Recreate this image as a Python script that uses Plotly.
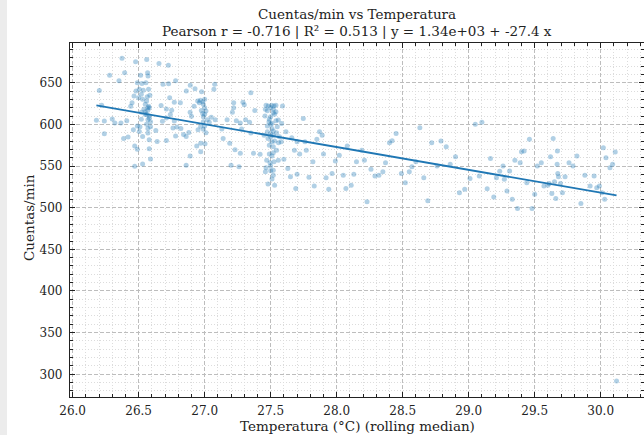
import plotly.graph_objects as go

# ---- data ----
temp = [
    26.374, 26.477, 26.561, 26.654, 26.725, 26.28, 26.394, 26.351, 26.515, 26.568, 26.571,
    26.49, 26.525, 26.555, 26.684, 26.727, 26.78, 26.202, 26.861, 26.891, 26.927, 26.977,
    27.076, 26.48, 26.505, 26.535, 26.575, 26.465, 26.5, 26.52, 26.565, 26.585, 26.735,
    26.77, 26.816, 26.947, 26.967, 26.96, 26.985, 26.45, 26.44, 26.576, 26.58, 26.57,
    26.67, 26.71, 26.75, 26.89, 26.975, 26.985, 26.99, 26.52, 26.55, 26.58, 26.57,
    26.68, 26.71, 26.74, 26.77, 26.18, 26.24, 26.3, 26.32, 26.366, 26.41, 26.22,
    26.24, 26.386, 26.42, 26.46, 26.49, 26.51, 26.505, 26.57, 26.59, 26.53, 26.58,
    26.58, 26.59, 26.47, 26.49, 26.53, 26.47, 26.63, 26.64, 26.71, 26.76, 26.79,
    26.82, 26.78, 26.84, 26.86, 26.88, 26.89, 26.94, 26.97, 27.003, 26.97, 26.86,
    27.02, 27.035, 27.05, 27.08, 26.97, 26.99, 26.95, 27.13, 27.14, 27.17, 27.21,
    27.22, 27.24, 27.22, 27.29, 27.3, 27.27, 27.28, 27.31, 27.34, 27.19, 27.23,
    27.27, 27.2, 27.26, 27.37, 27.42, 27.35, 27.38, 27.35, 26.92, 26.9, 27.07,
    27.465, 27.482, 27.508, 27.525, 27.54, 27.59, 27.46, 27.475, 27.52, 27.54, 27.5,
    27.52, 27.457, 27.487, 27.475, 27.51, 27.54, 27.558, 27.55, 27.475, 27.5, 27.52,
    27.545, 27.566, 27.58, 27.45, 27.48, 27.508, 27.52, 27.545, 27.56, 27.52, 27.49,
    27.47, 27.495, 27.525, 27.558, 27.6, 27.465, 27.46, 27.5, 27.51, 27.48, 27.52,
    27.53, 27.616, 27.583, 27.747, 27.66, 27.7, 27.68, 27.72, 27.77, 27.76, 27.85,
    27.87, 27.89, 27.82, 27.9, 27.63, 27.65, 27.7, 27.69, 27.79, 27.83, 27.92,
    27.94, 27.965, 27.99, 28.02, 28.08, 28.05, 28.07, 28.11, 28.13, 28.15, 28.19,
    28.21, 28.23, 28.26, 28.29, 28.32, 28.35, 28.37, 28.4, 28.42, 28.45, 28.49,
    28.52, 28.55, 28.57, 28.6, 28.63, 28.66, 28.69, 28.72, 28.76, 28.79, 28.83,
    28.9, 28.86, 28.93, 28.97, 29.01, 29.05, 29.1, 29.08, 29.14, 29.165, 29.19,
    29.21, 29.235, 29.26, 29.27, 29.29, 29.31, 29.33, 29.35, 29.37, 29.39, 29.4,
    29.42, 29.44, 29.46, 29.48, 29.5, 29.52, 29.55, 29.57, 29.6, 29.62, 29.61,
    29.63, 29.64, 29.65, 29.66, 29.67, 29.672, 29.675, 29.68, 29.71, 29.695, 29.73,
    29.76, 29.79, 29.82, 29.85, 29.88, 29.92, 29.95, 29.97, 29.99, 30.01, 30.02,
    30.03, 30.04, 30.07, 30.09, 30.11, 30.12,
    26.55, 26.56, 26.57, 26.55, 26.56, 26.54, 26.58, 26.53, 26.56, 26.57, 26.52, 26.59,
    27.0, 27.0, 27.01, 26.99, 27.0, 27.01, 26.99, 27.0,
    27.5, 27.51, 27.49, 27.52, 27.5, 27.53, 27.49, 27.51, 27.5, 27.52, 27.5, 27.53,
]
counts = [
    679.4, 675, 677.8, 673, 671, 658.9, 662, 652.4, 659, 662, 658,
    650, 649, 650, 648, 648.8, 652.4, 640.7, 640, 646.8, 642.7, 639,
    648, 640, 642, 641, 642, 634, 632, 636, 633, 635, 632,
    626.6, 625.8, 628, 629, 625.8, 627, 625.8, 621.8, 621.8, 619.8, 617,
    622.6, 618.5, 617, 614.5, 616.5, 613, 609, 614.5, 611.7, 607.7, 605.6,
    603.6, 607.7, 611.7, 604, 605, 604, 606.5, 601.6, 601.6, 604.4, 623,
    588.7, 583, 584.7, 593.6, 598, 597, 591.5, 589.5, 597, 585.5, 581.5,
    570.6, 558.5, 574, 570, 552.4, 549.6, 592.7, 579.4, 580.6, 595.6, 596.8,
    595, 586, 587.9, 585.5, 590.3, 562, 574, 577.4, 576.6, 567, 551,
    605.6, 602.4, 608.5, 605.6, 597.6, 594, 593.6, 594.4, 583, 605.6, 614.5,
    620, 604.4, 625.8, 626.6, 623.4, 601.6, 594.4, 605.6, 602.4, 577.4, 569.4,
    565.3, 551, 549, 565.3, 564, 638, 616.5, 589.5, 621.8, 609.7, 642,
    623, 622, 623, 622, 623, 622, 618, 616.4, 614, 615.2, 609.2,
    618, 610, 603.2, 598, 601.2, 604.4, 605.2, 597.2, 591, 589, 587,
    590, 585, 579, 587, 583, 579, 573, 569, 578, 566, 564.4,
    557, 554, 555, 557, 558, 548, 543, 544.4, 534.4, 528.4, 539,
    527, 591, 601, 607, 584, 579, 569, 564.4, 569, 579, 582,
    591, 587, 555, 564.4, 547, 537, 540, 523, 536.4, 526, 536,
    522, 541, 556, 563, 574, 539, 523, 527, 540, 555, 569,
    557, 507, 546, 538, 539, 543, 554, 578, 580.4, 589, 541,
    530, 543, 549, 555, 596, 536, 508.4, 578, 550, 580, 573,
    561, 552, 518, 522, 535, 600, 602.4, 538, 522.8, 559, 512.8,
    536, 543.6, 550, 534, 520, 544, 510, 557, 499, 554, 567,
    568, 530, 582, 499, 516, 550, 554, 526, 527, 561, 529,
    517, 583, 531, 511, 552, 568, 541, 537, 518, 529, 537,
    554, 550, 562, 505, 539, 526, 538, 524, 526, 518, 572,
    510, 560, 548, 552, 566.8, 292,
    615, 612, 620, 624, 628, 618, 610, 630, 600, 595, 606, 603,
    620, 612, 616, 603, 598, 590, 624, 630,
    600, 595, 606, 592, 585, 580, 575, 562, 550, 545, 620, 612,
]
INTERCEPT = 1340.0
SLOPE = -27.4
title_lines = ["Cuentas/min vs Temperatura",
               "Pearson r = -0.716 | R\u00b2 = 0.513 | y = 1.34e+03 + -27.4 x"]
x_label = "Temperatura (\u00b0C) (rolling median)"
y_label = "Cuentas/min"

FONT = "DejaVu Serif"
BLUE = "#1f77b4"

x_fit = [min(temp), max(temp)]
y_fit = [INTERCEPT + SLOPE * v for v in x_fit]

fig = go.Figure()
fig.add_trace(go.Scatter(
    x=temp, y=counts, mode="markers",
    marker=dict(size=5, color="rgba(31,119,180,0.35)", line=dict(width=0)),
    showlegend=False, hoverinfo="skip"))
fig.add_trace(go.Scatter(
    x=x_fit, y=y_fit, mode="lines",
    line=dict(color=BLUE, width=1.8), showlegend=False, hoverinfo="skip"))

axis_common = dict(
    showline=True, linecolor="#222222", linewidth=1.3, mirror="ticks",
    ticks="inside", ticklen=5, tickwidth=1, tickcolor="#222222",
    showgrid=True, gridcolor="#bdbdbd", gridwidth=0.8, griddash="4px,2px",
    zeroline=False,
    tickfont=dict(family=FONT, size=12, color="#222222"),
)

fig.update_xaxes(
    range=[25.98, 30.328], dtick=0.5, tick0=26.0, tickformat=".1f",
    ticklabelstandoff=2,
    minor=dict(dtick=0.1, ticks="inside", ticklen=2.5, tickcolor="#222222",
               showgrid=True, gridcolor="#dcdcdc", gridwidth=0.6, griddash="1px,2px"),
    **axis_common)
fig.update_yaxes(
    range=[272.75, 697.65], dtick=50, tick0=300,
    ticklabelstandoff=4,
    minor=dict(dtick=10, ticks="inside", ticklen=2.5, tickcolor="#222222",
               showgrid=True, gridcolor="#dcdcdc", gridwidth=0.6, griddash="1px,2px"),
    **axis_common)

W, H = 644, 435
ML, MR, MT, MB = 70, 0, 43, 38
pw, ph = W - ML - MR, H - MT - MB

def px_x(p):
    return (p - ML) / pw

def px_y(p):
    return (H - MB - p) / ph

annotations = [
    dict(text=title_lines[0], x=px_x(357), y=px_y(14), xref="paper", yref="paper",
         showarrow=False, xanchor="center", yanchor="middle",
         font=dict(family=FONT, size=13.5, color="#222222")),
    dict(text=title_lines[1], x=px_x(357), y=px_y(31), xref="paper", yref="paper",
         showarrow=False, xanchor="center", yanchor="middle",
         font=dict(family=FONT, size=13.5, color="#222222")),
    dict(text=x_label, x=px_x(357), y=px_y(426), xref="paper", yref="paper",
         showarrow=False, xanchor="center", yanchor="middle",
         font=dict(family=FONT, size=13.5, color="#222222")),
    dict(text=y_label, x=px_x(29), y=px_y(218), xref="paper", yref="paper",
         showarrow=False, xanchor="center", yanchor="middle", textangle=-90,
         font=dict(family=FONT, size=13.5, color="#222222")),
]

shapes = [
    dict(type="rect", xref="paper", yref="paper",
         x0=px_x(0), x1=px_x(7), y0=px_y(H), y1=px_y(0),
         fillcolor="#ececec", line=dict(width=0), layer="below"),
]

fig.update_layout(
    width=W, height=H,
    margin=dict(l=ML, r=MR, t=MT, b=MB, pad=0),
    paper_bgcolor="white", plot_bgcolor="white",
    annotations=annotations, shapes=shapes,
    font=dict(family=FONT, color="#222222"),
)

fig.write_html("out.html")
